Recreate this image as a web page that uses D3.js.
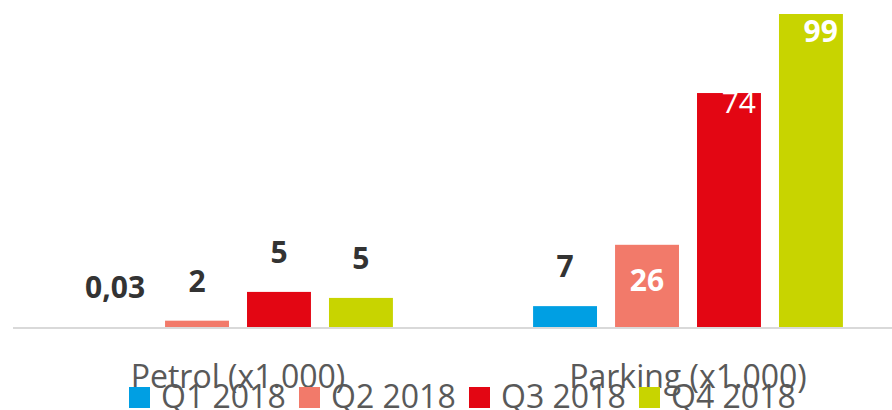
<!DOCTYPE html>
<html><head><meta charset="utf-8">
<script src="https://cdn.jsdelivr.net/npm/d3@7"></script>
<style>html,body{margin:0;padding:0;background:#fff;overflow:hidden}</style>
</head><body>
<svg id="c" width="892" height="410"></svg>
<script>
const categories = ["Petrol (x1.000)", "Parking (x1.000)"];
const seriesNames = ["Q1 2018", "Q2 2018", "Q3 2018", "Q4 2018"];
const colors = ["#009fe3", "#f27a6a", "#e30613", "#c8d400"];
// bar heights (per category, per quarter)
const petrolValues = [0.03, 2, 11.1, 9.2];
const parkingValues = [6.6, 26, 74, 99];
// label texts as printed on the chart
const petrolLabels = ["0,03", "2", "5", "5"];
const parkingLabels = ["7", "26", "74", "99"];

const values = [petrolValues, parkingValues];
const labels = [petrolLabels, parkingLabels];

const svg = d3.select("#c");
const font = "'Open Sans', 'Noto Sans', sans-serif";

const x0 = d3.scaleBand().domain(categories).range([13, 913]).padding(0);
const x1 = d3.scaleBand().domain(seriesNames).range([0, x0.bandwidth()])
  .paddingInner(0.22).paddingOuter(0.855);
const y = d3.scaleLinear().domain([0, 99]).range([327, 14]);

// bars
categories.forEach((cat, ci) => {
  const g = svg.append("g").attr("transform", `translate(${x0(cat)},0)`);
  seriesNames.forEach((s, si) => {
    const v = values[ci][si];
    if (y(0) - y(v) < 0.5) return;
    g.append("rect")
      .attr("x", x1(s)).attr("width", x1.bandwidth())
      .attr("y", y(v)).attr("height", y(0) - y(v))
      .attr("fill", colors[si]);
  });
});

// baseline
svg.append("line").attr("x1", 13).attr("x2", 892)
  .attr("y1", y(0) + 1).attr("y2", y(0) + 1)
  .attr("stroke", "#d9d9d9").attr("stroke-width", 2);

// data labels
categories.forEach((cat, ci) => {
  seriesNames.forEach((s, si) => {
    const v = values[ci][si];
    const bx = x0(cat) + x1(s);
    const bw = x1.bandwidth();
    const inside = v > 20;
    const endAnchor = v > 50;
    const ly = !inside ? y(v) - 29 : (endAnchor ? y(v) + (v > 90 ? 28 : 20) : y(v) + 46);
    svg.append("text")
      .attr("x", endAnchor ? bx + bw - 5 : bx + bw / 2)
      .attr("y", ly)
      .attr("text-anchor", endAnchor ? "end" : "middle")
      .attr("font-family", font)
      .attr("font-weight", (v > 50 && v < 90) ? 400 : 700)
      .attr("font-size", 30)
      .attr("fill", inside ? "#ffffff" : "#333333")
      .text(labels[ci][si]);
  });
});

// category labels
categories.forEach(cat => {
  svg.append("text")
    .attr("x", x0(cat) + x0.bandwidth() / 2)
    .attr("y", 388)
    .attr("text-anchor", "middle")
    .attr("font-family", font)
    .attr("font-size", 32)
    .attr("fill", "#595959")
    .text(cat);
});

// legend
const legendStart = 129, legendStep = 170;
seriesNames.forEach((s, i) => {
  const lx = legendStart + i * legendStep;
  svg.append("rect").attr("x", lx).attr("y", 387).attr("width", 21).attr("height", 21)
    .attr("fill", colors[i]);
  svg.append("text").attr("x", lx + 32).attr("y", 408)
    .attr("font-family", font).attr("font-size", 32).attr("fill", "#595959")
    .text(s);
});
</script>
</body></html>
